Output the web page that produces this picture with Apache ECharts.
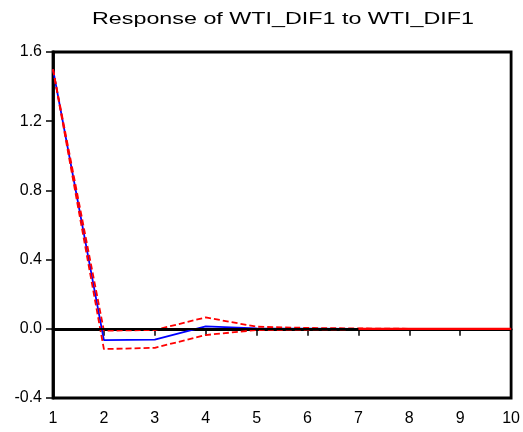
<!DOCTYPE html>
<html><head><meta charset="utf-8">
<script src="https://cdn.jsdelivr.net/npm/echarts@6/dist/echarts.min.js"></script>
<style>html,body{margin:0;padding:0;background:#fff}#c{width:523px;height:432px}</style>
</head><body><div id="c"></div>
<script>
var titleText = 'Response of WTI_DIF1 to WTI_DIF1';
var periods = ['1','2','3','4','5','6','7','8','9','10'];
var response = [1.50, -0.065, -0.062, 0.014, 0.002, 0.001, 0.000, 0, 0, 0];
var upperBand = [1.50, -0.011, -0.007, 0.066, 0.012, 0.005, 0.002, 0, 0, 0];
var lowerBand = [1.50, -0.117, -0.110, -0.036, -0.007, -0.004, -0.002, 0, 0, 0];
var zeroTail = [null, null, null, null, null, null, 0, 0, 0, 0];
var yTicks = [-0.4, 0.0, 0.4, 0.8, 1.2, 1.6];

var F = '"Liberation Sans", Arial, sans-serif';
var titleSize = 17;
var cv = document.createElement('canvas').getContext('2d');
cv.font = titleSize + 'px ' + F;
var natW = cv.measureText(titleText).width;
var sx = 382 / natW;

var chart = echarts.init(document.getElementById('c'));
chart.setOption({
  animation: false,
  graphic: [{type: 'text', x: 283, y: 19, scaleX: sx, scaleY: 1,
    style: {text: titleText, font: titleSize + 'px ' + F, fill: '#000', align: 'center', verticalAlign: 'middle'}}],
  grid: {left: 53, right: 10, top: 52, bottom: 34, show: true, borderColor: '#000', borderWidth: 2.8},
  xAxis: {type: 'category', data: periods, boundaryGap: false,
    axisLine: {lineStyle: {color: '#000', width: 2.8}},
    axisTick: {show: true, length: 7, lineStyle: {color: '#000', width: 1.5}},
    axisLabel: {color: '#000', fontFamily: F, fontSize: 16, margin: 13, interval: 0},
    splitLine: {show: false}},
  yAxis: {type: 'value', min: yTicks[0], max: yTicks[yTicks.length-1], interval: 0.4,
    axisLine: {show: true, lineStyle: {color: '#000', width: 2.8}},
    axisTick: {show: true, length: 7, lineStyle: {color: '#000', width: 1.5}},
    axisLabel: {color: '#000', fontFamily: F, fontSize: 16, margin: 11,
      formatter: function(v){ return v.toFixed(1); }},
    splitLine: {show: false}},
  series: [
    {type: 'line', data: response, symbol: 'none', z: 3,
     lineStyle: {color: '#0000ff', width: 1.8},
     markLine: {silent: true, symbol: 'none', label: {show: false},
       lineStyle: {color: '#000', width: 1.8, type: 'solid'}, data: [{yAxis: 0}]}},
    {type: 'line', data: upperBand, symbol: 'none', z: 4,
     lineStyle: {color: '#ff0000', width: 1.8, type: [6, 3]}},
    {type: 'line', data: lowerBand, symbol: 'none', z: 4,
     lineStyle: {color: '#ff0000', width: 1.8, type: [6, 3]}},
    {type: 'line', data: zeroTail, symbol: 'none', z: 5,
     lineStyle: {color: '#ff0000', width: 2.2}}
  ]
});
</script></body></html>
